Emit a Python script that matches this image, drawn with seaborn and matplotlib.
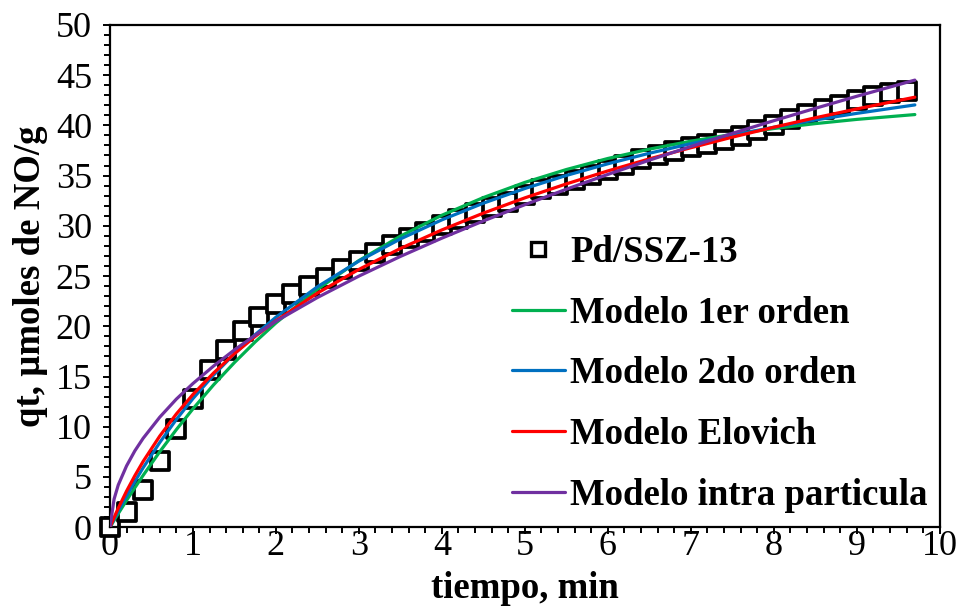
import matplotlib
matplotlib.use("Agg")
import matplotlib.pyplot as plt
from matplotlib.lines import Line2D
from matplotlib.ticker import MultipleLocator
import numpy as np
import pandas as pd
import seaborn as sns

# Experimental NO uptake on Pd/SSZ-13
t_exp = [0.0, 0.2, 0.4, 0.6, 0.8, 1.0, 1.2, 1.4, 1.6, 1.8,
         2.0, 2.2, 2.4, 2.6, 2.8, 3.0, 3.2, 3.4, 3.6, 3.8,
         4.0, 4.2, 4.4, 4.6, 4.8, 5.0, 5.2, 5.4, 5.6, 5.8,
         6.0, 6.2, 6.4, 6.6, 6.8, 7.0, 7.2, 7.4, 7.6, 7.8,
         8.0, 8.2, 8.4, 8.6, 8.8, 9.0, 9.2, 9.4, 9.6]
q_exp = [0.0, 1.5, 3.7, 6.6, 9.8, 12.8, 15.6, 17.6, 19.5, 20.9,
         22.2, 23.2, 24.0, 24.8, 25.7, 26.5, 27.3, 28.1, 28.8, 29.4,
         30.1, 30.7, 31.3, 31.9, 32.4, 33.1, 33.7, 34.1, 34.6, 35.1,
         35.6, 36.1, 36.6, 37.0, 37.4, 37.8, 38.1, 38.5, 38.9, 39.5,
         40.0, 40.6, 41.1, 41.6, 42.0, 42.5, 42.9, 43.2, 43.4]

# Kinetic model curves
t_fit = [0.0, 0.05, 0.1, 0.2, 0.3, 0.4, 0.6, 0.8, 1.0, 1.25, 1.5, 1.75,
         2.0, 2.5, 3.0, 3.5, 4.0, 4.5, 5.0, 5.5, 6.0, 6.5, 7.0, 7.5,
         8.0, 8.5, 9.0, 9.7]
q_orden1 = [0.0, 0.68, 1.35, 2.67, 3.93, 5.16, 7.51, 9.71, 11.78, 14.18,
            16.39, 18.44, 20.33, 23.68, 26.54, 28.97, 31.05, 32.81, 34.32,
            35.60, 36.70, 37.63, 38.42, 39.10, 39.68, 40.17, 40.59, 41.07]
q_orden2 = [0.0, 0.81, 1.60, 3.12, 4.55, 5.92, 8.43, 10.72, 12.80, 15.15,
            17.26, 19.17, 20.90, 23.93, 26.49, 28.69, 30.59, 32.25, 33.71,
            35.01, 36.17, 37.22, 38.17, 39.02, 39.81, 40.53, 41.19, 42.03]
q_elovich = [0.0, 0.97, 1.89, 3.59, 5.13, 6.55, 9.07, 11.27, 13.21, 15.36,
             17.27, 18.99, 20.55, 23.30, 25.66, 27.74, 29.59, 31.26, 32.78,
             34.17, 35.46, 36.66, 37.77, 38.82, 39.81, 40.75, 41.63, 42.80]
q_intra = [0.0, 2.80, 4.20, 6.10, 7.60, 8.85, 10.95, 12.75, 14.30, 16.05,
           17.65, 19.10, 20.50, 22.86, 24.99, 26.95, 28.77, 30.48, 32.10,
           33.64, 35.11, 36.53, 37.89, 39.20, 40.46, 41.69, 42.89, 44.50]

serie_exp = "Pd/SSZ-13"
modelos = ["Modelo 1er orden", "Modelo 2do orden", "Modelo Elovich",
           "Modelo intra particula"]
colores = ["#00B050", "#0070C0", "#FF0000", "#7030A0"]

df_fit = pd.DataFrame({
    "t": t_fit * 4,
    "q": q_orden1 + q_orden2 + q_elovich + q_intra,
    "modelo": [m for m in modelos for _ in t_fit],
})
df_exp = pd.DataFrame({"t": t_exp, "q": q_exp})

sns.set_theme(style="white")
plt.rcParams["font.family"] = ["Liberation Serif", "DejaVu Serif"]
plt.rcParams.update({"text.color": "black", "axes.labelcolor": "black",
                     "xtick.color": "black", "ytick.color": "black"})

fig = plt.figure(figsize=(9.56, 6.06), dpi=100)
ax = fig.add_axes([0.115, 0.130, 0.868, 0.829])

sns.scatterplot(data=df_exp, x="t", y="q", marker="s", s=150,
                facecolor="white", edgecolor="black", linewidth=2.7,
                ax=ax, zorder=2, clip_on=False, legend=False)
sns.lineplot(data=df_fit, x="t", y="q", hue="modelo", hue_order=modelos,
             palette=dict(zip(modelos, colores)), linewidth=2.3,
             estimator=None, sort=False, ax=ax, legend=False, zorder=3)

ax.set_xlim(0, 10)
ax.set_ylim(0, 50)
ax.xaxis.set_major_locator(MultipleLocator(1))
ax.xaxis.set_minor_locator(MultipleLocator(0.2))
ax.yaxis.set_major_locator(MultipleLocator(5))
ax.yaxis.set_minor_locator(MultipleLocator(1))
ax.tick_params(which="both", direction="out", bottom=True, left=True,
               top=False, right=False, color="black", width=1.4,
               labelcolor="black")
ax.tick_params(which="major", length=5, labelsize=26)
ax.tick_params(which="minor", length=4)
ax.tick_params(axis="x", which="major", pad=-3)
ax.tick_params(axis="y", which="major", pad=8)
for sp in ax.spines.values():
    sp.set_color("black")
    sp.set_linewidth(1.6)

ax.set_xlabel("tiempo, min", fontsize=26.5, fontweight="bold")
ax.set_ylabel("qt, µmoles de NO/g", fontsize=26.5, fontweight="bold")
ax.xaxis.set_label_coords(0.5, -0.087)
ax.yaxis.set_label_coords(-0.075, 0.5)

handles = [Line2D([], [], linestyle="none", marker="s", markersize=10,
                  markerfacecolor="white", markeredgecolor="black",
                  markeredgewidth=2.4)]
handles += [Line2D([], [], color=c, linewidth=2.3) for c in colores]
leg = ax.legend(handles, [serie_exp] + modelos, loc="upper left",
                bbox_to_anchor=(0.484, 0.582), frameon=False,
                prop={"size": 26.5, "weight": "bold"}, handlelength=1.45,
                handletextpad=0.15, labelspacing=0.70, borderpad=0,
                borderaxespad=0)

fig.savefig("out.png", dpi=100, facecolor="white")
